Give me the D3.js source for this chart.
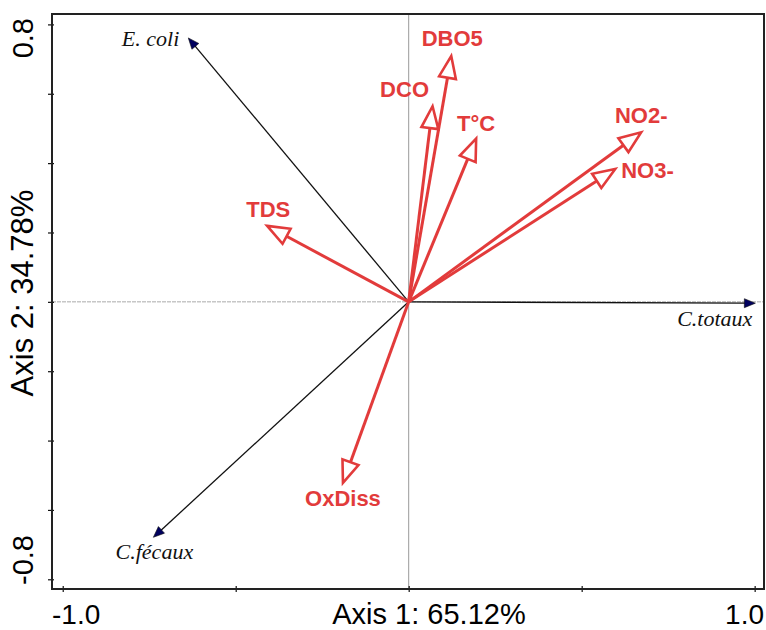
<!DOCTYPE html>
<html>
<head>
<meta charset="utf-8">
<script src="https://cdn.jsdelivr.net/npm/d3@7"></script>
<style>
  body { margin: 0; background: #fff; }
  svg { display: block; }
</style>
</head>
<body>
<div id="chart"></div>
<script>
// environmental variables (red, open heads)
const envVars = ["DBO5", "DCO", "T°C", "NO2-", "NO3-", "TDS", "OxDiss"];
const envAxis1 = [0.123, 0.069, 0.195, 0.672, 0.597, -0.409, -0.190];
const envAxis2 = [0.709, 0.564, 0.471, 0.489, 0.383, 0.219, -0.522];

// bacteria (black, filled heads)
const bacteria = ["E. coli", "C.fécaux", "C.totaux"];
const bactAxis1 = [-0.637, -0.738, 1.002];
const bactAxis2 = [0.761, -0.679, -0.004];

const xTicks = [-1, -0.5, 0, 0.5, 1];
const yTicks = [-0.8, -0.6, -0.4, -0.2, 0, 0.2, 0.4, 0.6, 0.8];
const xTickLabels = ["-1.0", "1.0"];
const yTickLabels = ["-0.8", "0.8"];
const xTitle = "Axis 1: 65.12%";
const yTitle = "Axis 2: 34.78%";

const W = 766, H = 630;
const pLeft = 52, pRight = 764, pTop = 14, pBottom = 589;
const red = "#e23b3b";

const svg = d3.select("#chart").append("svg")
  .attr("width", W)
  .attr("height", H);

const x = d3.scaleLinear().domain([-1.031, 1.027]).range([pLeft, pRight]);
const y = d3.scaleLinear().domain([-0.828, 0.830]).range([pBottom, pTop]);

// zero lines
svg.append("line")
  .attr("x1", x(0)).attr("x2", x(0))
  .attr("y1", pTop).attr("y2", pBottom)
  .attr("stroke", "#999").attr("stroke-width", 1);
svg.append("line")
  .attr("x1", pLeft).attr("x2", pRight)
  .attr("y1", y(0)).attr("y2", y(0))
  .attr("stroke", "#aaa").attr("stroke-width", 1)
  .attr("stroke-dasharray", "4,1");

// ticks (crossing the frame a little)
const xAxis = svg.append("g")
  .attr("transform", `translate(0,${pBottom})`)
  .call(d3.axisBottom(x).tickValues(xTicks).tickSize(6).tickFormat(""));
xAxis.select(".domain").remove();
xAxis.selectAll(".tick line").attr("y1", -3).attr("y2", 3).attr("stroke", "#111").attr("stroke-width", 1.2);

const yAxis = svg.append("g")
  .attr("transform", `translate(${pLeft},0)`)
  .call(d3.axisLeft(y).tickValues(yTicks).tickSize(6).tickFormat(""));
yAxis.select(".domain").remove();
yAxis.selectAll(".tick line").attr("x1", -4).attr("x2", 2).attr("stroke", "#111").attr("stroke-width", 1.2);

// frame
svg.append("rect")
  .attr("x", pLeft).attr("y", pTop)
  .attr("width", pRight - pLeft).attr("height", pBottom - pTop)
  .attr("fill", "none")
  .attr("stroke", "#222")
  .attr("stroke-width", 2);

// tick labels, kept inside the frame edges
svg.append("text")
  .attr("x", pLeft).attr("y", 624)
  .attr("text-anchor", "start")
  .attr("font-family", "Liberation Sans, Arial, sans-serif")
  .attr("font-size", 28)
  .text(xTickLabels[0]);
svg.append("text")
  .attr("x", pRight).attr("y", 624)
  .attr("text-anchor", "end")
  .attr("font-family", "Liberation Sans, Arial, sans-serif")
  .attr("font-size", 28)
  .text(xTickLabels[1]);

svg.append("text")
  .attr("transform", `translate(33,${pBottom - 4}) rotate(-90)`)
  .attr("text-anchor", "start")
  .attr("font-family", "Liberation Sans, Arial, sans-serif")
  .attr("font-size", 29)
  .text(yTickLabels[0]);
svg.append("text")
  .attr("transform", `translate(33,${pTop + 4}) rotate(-90)`)
  .attr("text-anchor", "end")
  .attr("font-family", "Liberation Sans, Arial, sans-serif")
  .attr("font-size", 29)
  .text(yTickLabels[1]);

// axis titles
svg.append("text")
  .attr("x", 429).attr("y", 624)
  .attr("text-anchor", "middle")
  .attr("font-family", "Liberation Sans, Arial, sans-serif")
  .attr("font-size", 29)
  .text(xTitle);
svg.append("text")
  .attr("transform", `translate(33,293) rotate(-90)`)
  .attr("text-anchor", "middle")
  .attr("font-family", "Liberation Sans, Arial, sans-serif")
  .attr("font-size", 31)
  .text(yTitle);

const ox = x(0), oy = y(0);

// black arrows for bacteria
const bact = bacteria.map((name, i) => ({ name, a1: bactAxis1[i], a2: bactAxis2[i] }));
const bactLabel = {
  "E. coli": { dx: -9, dy: 8, anchor: "end" },
  "C.fécaux": { dx: 1, dy: 22, anchor: "middle" },
  "C.totaux": { dx: -3, dy: 23, anchor: "end" }
};

bact.forEach(d => {
  const tx = x(d.a1), ty = y(d.a2);
  const len = Math.hypot(tx - ox, ty - oy);
  const ux = (tx - ox) / len, uy = (ty - oy) / len;
  const nx = -uy, ny = ux;
  const hl = 11, hw = 4.5;
  const bx = tx - ux * hl, by = ty - uy * hl;
  svg.append("line")
    .attr("x1", ox).attr("y1", oy)
    .attr("x2", bx + ux * 2).attr("y2", by + uy * 2)
    .attr("stroke", "#111").attr("stroke-width", 1.3);
  svg.append("path")
    .attr("d", `M${tx},${ty}L${bx + nx * hw},${by + ny * hw}L${bx - nx * hw},${by - ny * hw}Z`)
    .attr("fill", "#00005e")
    .attr("stroke", "#111")
    .attr("stroke-width", 0.6);
  const lp = bactLabel[d.name];
  svg.append("text")
    .attr("x", tx + lp.dx).attr("y", ty + lp.dy)
    .attr("text-anchor", lp.anchor)
    .attr("font-family", "Liberation Serif, Times New Roman, serif")
    .attr("font-style", "italic")
    .attr("font-size", 22)
    .attr("fill", "#111")
    .text(d.name);
});

// red arrows for environmental variables
const env = envVars.map((name, i) => ({ name, a1: envAxis1[i], a2: envAxis2[i] }));
const envLabel = {
  "DBO5": { dx: 1, dy: -10, anchor: "middle" },
  "DCO": { dx: -28, dy: -9, anchor: "middle" },
  "T°C": { dx: 0, dy: -8, anchor: "middle" },
  "NO2-": { dx: 0, dy: -9, anchor: "middle" },
  "NO3-": { dx: 6, dy: 9, anchor: "start" },
  "TDS": { dx: 1, dy: -9, anchor: "middle" },
  "OxDiss": { dx: 0, dy: 23, anchor: "middle" }
};

env.forEach(d => {
  const tx = x(d.a1), ty = y(d.a2);
  const len = Math.hypot(tx - ox, ty - oy);
  const ux = (tx - ox) / len, uy = (ty - oy) / len;
  const nx = -uy, ny = ux;
  const hl = 22, hw = 8.5;
  const bx = tx - ux * hl, by = ty - uy * hl;
  svg.append("line")
    .attr("x1", ox).attr("y1", oy)
    .attr("x2", bx).attr("y2", by)
    .attr("stroke", red).attr("stroke-width", 3);
  svg.append("path")
    .attr("d", `M${tx},${ty}L${bx + nx * hw},${by + ny * hw}L${bx - nx * hw},${by - ny * hw}Z`)
    .attr("fill", "#fff")
    .attr("stroke", red)
    .attr("stroke-width", 2.6)
    .attr("stroke-linejoin", "miter");
  const lp = envLabel[d.name];
  svg.append("text")
    .attr("x", tx + lp.dx).attr("y", ty + lp.dy)
    .attr("text-anchor", lp.anchor)
    .attr("font-family", "Liberation Sans, Arial, sans-serif")
    .attr("font-weight", "bold")
    .attr("font-size", 22)
    .attr("fill", red)
    .text(d.name);
});
</script>
</body>
</html>
